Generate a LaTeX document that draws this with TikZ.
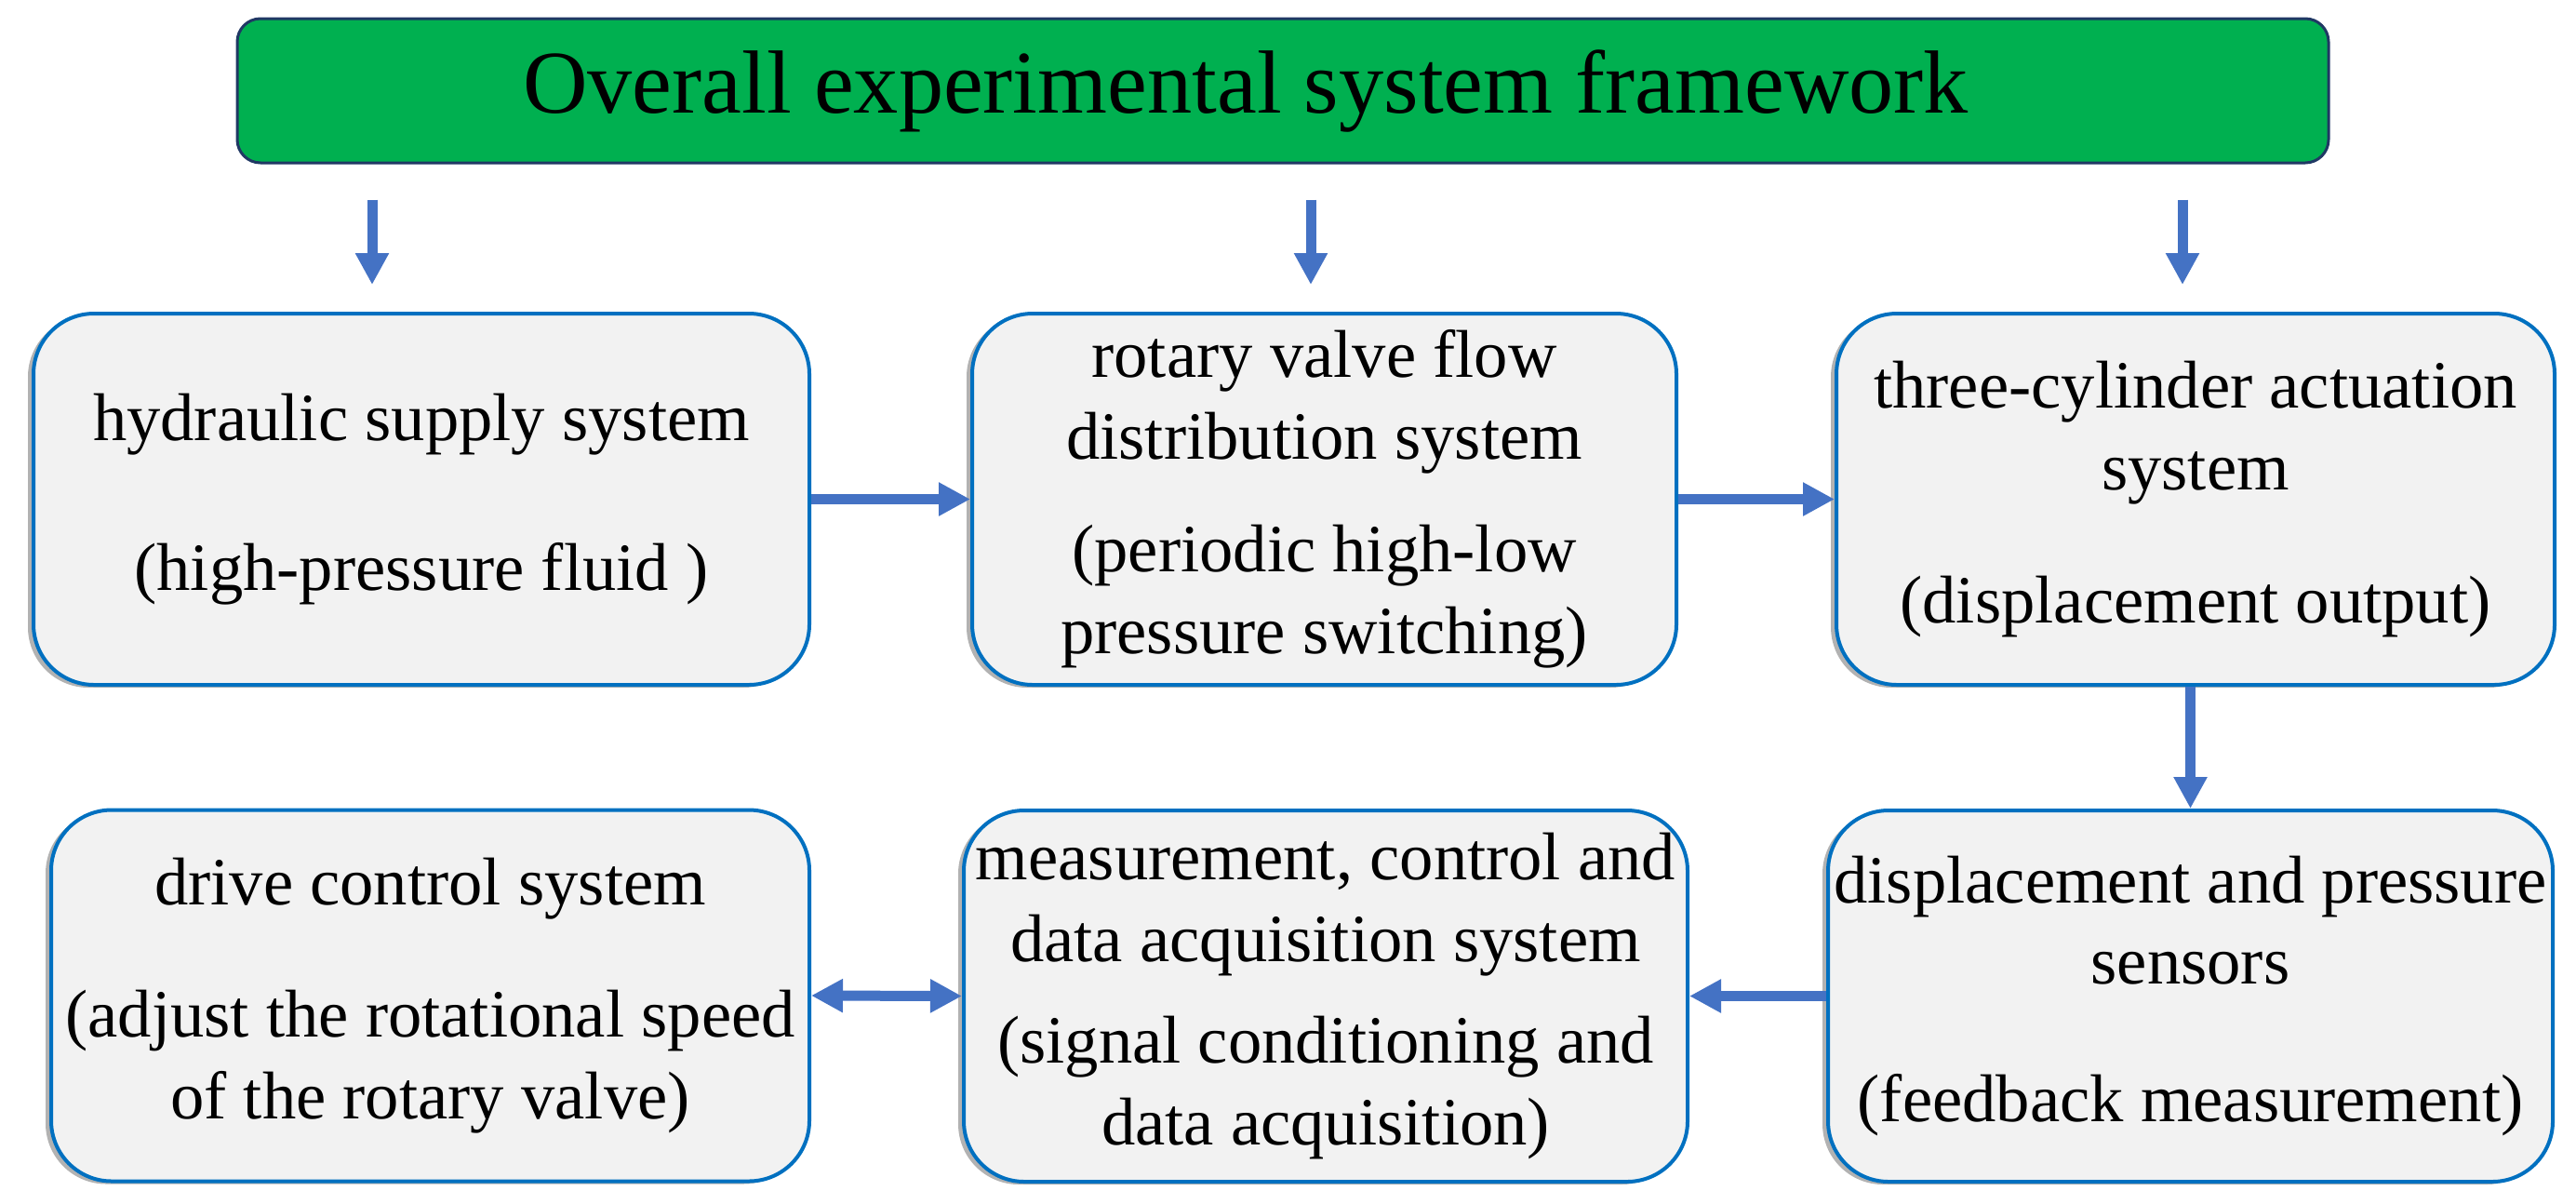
\documentclass[tikz,border=0pt]{standalone}
\usepackage{fontspec}
\setmainfont{Liberation Serif}
\usetikzlibrary{arrows.meta,shadows}
\definecolor{framegreen}{RGB}{0, 176, 80}
\definecolor{framenavy}{RGB}{32, 56, 100}
\definecolor{boxblue}{RGB}{0, 112, 192}
\definecolor{boxgrey}{RGB}{242, 242, 242}
\definecolor{flowblue}{RGB}{68, 114, 196}

\begin{document}
\begin{tikzpicture}[
        flowtip/.tip={Triangle[length=0.34cm, width=0.34cm]},
        sysbox/.style={draw=boxblue, fill=boxgrey, line width=0.04cm,
          rounded corners=0.65cm, align=center, inner sep=0pt,
          minimum height=3.99cm, font=\fontsize{20.66}{25}\selectfont,
          drop shadow={shadow xshift=-0.06cm, shadow yshift=-0.03cm,
            opacity=0.3, fill=black}},
        flow/.style={draw=flowblue, line width=0.11cm, -flowtip},
        twoway/.style={flow, flowtip-flowtip}]
        \useasboundingbox (0,0) rectangle (27.69,-12.93);

        \node[draw=framenavy, fill=framegreen, line width=0.03cm,
          rounded corners=0.25cm, minimum width=22.48cm, minimum height=1.55cm,
          inner sep=0pt, font=\fontsize{27.4}{33}\selectfont]
          (frame) at (13.79,-0.975) {Overall experimental system framework\hspace*{0.8cm}};

        \node[sysbox, minimum width=8.34cm] (supply) at (4.53,-5.365)
          {hydraulic supply system\\[0.73cm]%
           (high-pressure fluid )};
        \node[sysbox, minimum width=7.57cm] (valve) at (14.235,-5.365)
          {rotary valve flow\\distribution system\\[0.33cm]%
           (periodic high-low\\pressure switching)};
        \node[sysbox, minimum width=7.72cm] (cylinder) at (23.60,-5.365)
          {three-cylinder actuation\\system\\[0.55cm]%
           (displacement output)};

        \node[sysbox, minimum width=8.15cm] (drive) at (4.625,-10.70)
          {drive control system\\[0.55cm]%
           (adjust the rotational speed\\of the rotary valve)};
        \node[sysbox, minimum width=7.78cm] (daq) at (14.25,-10.705)
          {measurement, control and\\data acquisition system\\[0.21cm]%
           (signal conditioning and\\data acquisition)};
        \node[sysbox, minimum width=7.79cm] (sensor) at (23.545,-10.705)
          {displacement and pressure\\sensors\\[0.60cm]%
           (feedback measurement)};

        \coordinate (c1) at (4.00,0);
        \coordinate (c2) at (14.09,0);
        \coordinate (c3) at (23.46,0);

        \draw[flow, shorten <=0.38cm, shorten >=0.29cm] (frame.south -| c1) -- (supply.north -| c1);
        \draw[flow, shorten <=0.38cm, shorten >=0.29cm] (frame.south -| c2) -- (valve.north -| c2);
        \draw[flow, shorten <=0.38cm, shorten >=0.29cm] (frame.south -| c3) -- (cylinder.north -| c3);

        \draw[flow] (supply.east) -- (valve.west);
        \draw[flow] (valve.east) -- (cylinder.west);
        \draw[flow] (cylinder.south -| sensor.north) -- (sensor.north);
        \draw[flow] (sensor.west) -- (daq.east);
        \draw[twoway] (drive.east) -- (daq.west);
      \end{tikzpicture}
\end{document}
